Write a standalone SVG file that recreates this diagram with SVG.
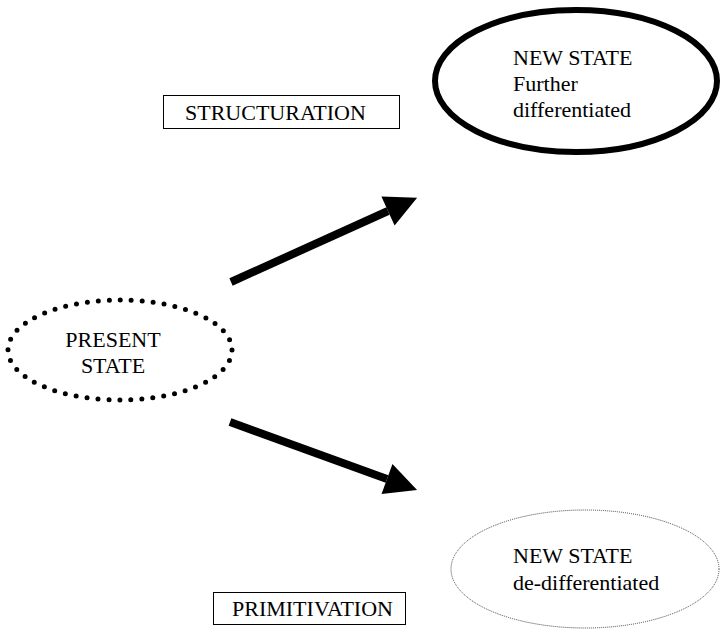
<svg xmlns="http://www.w3.org/2000/svg" width="720" height="631" viewBox="0 0 720 631" font-family="'Liberation Serif', 'Times New Roman', Times, serif">
<style>
  text { font-family: 'Liberation Serif', 'Times New Roman', Times, serif; font-size: 22px; fill: #000; }
  .box { fill: #fff; stroke: #000; stroke-width: 1; }
  .conn { stroke: #000; stroke-width: 8; fill: none; }
</style>
<defs>
  <marker id="head" markerUnits="userSpaceOnUse" markerWidth="34" markerHeight="34" viewBox="0 -17 34 34" refX="0" refY="0" orient="auto" overflow="visible">
    <path d="M0,-16 L32,0 L0,16 Z" fill="#000"/>
  </marker>
</defs>
<rect width="720" height="631" fill="#fff"/>
<g id="present">
  <ellipse cx="120" cy="350" rx="112" ry="50" fill="none" stroke="#000" stroke-width="5" stroke-linecap="round" stroke-dasharray="0 10.99"/>
  <text x="113" y="347" text-anchor="middle">PRESENT</text>
  <text x="113" y="373" text-anchor="middle">STATE</text>
</g>
<g id="new-further">
  <ellipse cx="576" cy="81" rx="141" ry="71" fill="none" stroke="#000" stroke-width="6"/>
  <text x="513" y="65">NEW STATE</text>
  <text x="513" y="91">Further</text>
  <text x="513" y="117">differentiated</text>
</g>
<g id="new-dedifferentiated">
  <ellipse cx="585" cy="569" rx="134" ry="59" fill="none" stroke="#444" stroke-width="1" stroke-dasharray="1 1"/>
  <text x="513" y="563">NEW STATE</text>
  <text x="513" y="590">de-differentiated</text>
</g>
<g id="structuration">
  <rect class="box" x="163.5" y="95.5" width="236" height="33"/>
  <text x="185" y="120">STRUCTURATION</text>
</g>
<g id="primitivation">
  <rect class="box" x="213.5" y="592.5" width="192" height="32"/>
  <text x="232" y="616">PRIMITIVATION</text>
</g>
<g id="connectors">
  <line class="conn" x1="231" y1="282" x2="388" y2="211" marker-end="url(#head)"/>
  <line class="conn" x1="230" y1="422" x2="387" y2="479" marker-end="url(#head)"/>
</g>
</svg>
